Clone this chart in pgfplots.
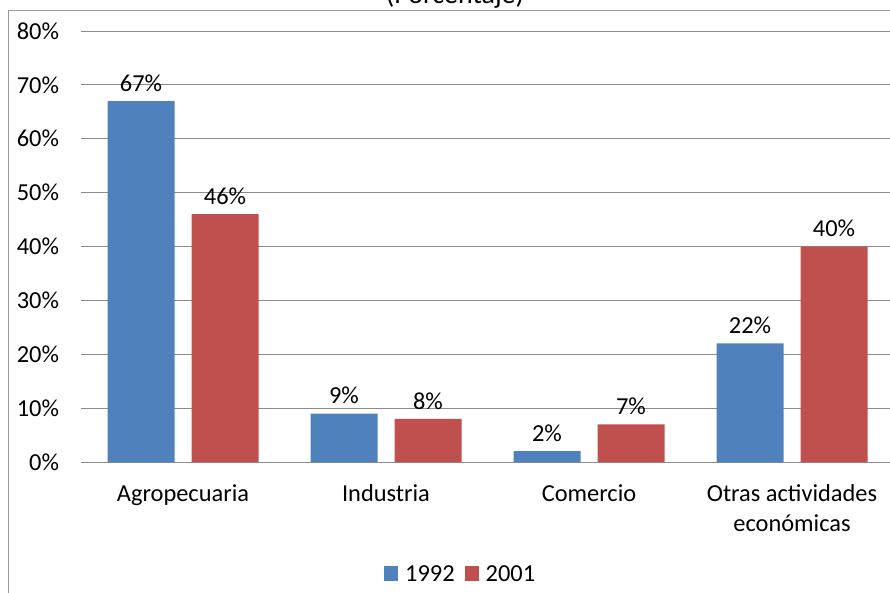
\documentclass[border=0pt]{standalone}
\usepackage{pgfplots}
\pgfplotsset{compat=1.18}
\usepackage{fontspec}
\setmainfont{Carlito}
\definecolor{cblue}{HTML}{4F81BD}
\definecolor{cred}{HTML}{C0504D}
\definecolor{gridc}{HTML}{8C8C8C}
\definecolor{framec}{HTML}{9A9A9A}
\begin{document}
\begin{tikzpicture}
\useasboundingbox (0pt,0pt) rectangle (890pt,592pt);
\clip (0pt,0pt) rectangle (890pt,592pt);
\draw[framec, line width=1pt] (8pt,-10pt) rectangle (900pt,581pt);
\node[anchor=base, font=\fontsize{28}{34}\selectfont, inner sep=0pt] at (455pt,588pt) {(Porcentaje)};
\begin{axis}[
  at={(183pt,130pt)}, anchor=origin,
  scale only axis, width=812pt, height=431pt,
  ymin=0, ymax=80, xmin=-0.5, xmax=3.5,
  ytick={0,10,...,80},
  yticklabel={\pgfmathprintnumber{\tick}\%},
  xtick=data,
  xticklabels={Agropecuaria, Industria, Comercio, {Otras actividades\\económicas}},
  xticklabel style={align=center, font=\fontsize{24.4}{30}\selectfont, yshift=-19pt},
  yticklabel style={font=\fontsize{24.4}{30}\selectfont, xshift=-19pt},
  /pgf/number format/assume math mode=true,
  major tick length=0pt,
  axis line style={draw=none},
  ymajorgrids, grid style={gridc, line width=1pt},
  ybar=17pt, bar width=67pt,
  nodes near coords={\pgfmathprintnumber{\pgfplotspointmeta}\%},
  nodes near coords style={font=\fontsize{24.4}{30}\selectfont, yshift=6pt},
  point meta=y,
  legend columns=2,
  legend style={at={(0.467,-0.26)}, anchor=center, draw=none, fill=none,
    font=\fontsize{24.4}{30}\selectfont,
    /tikz/every even column/.append style={column sep=8pt}},
  legend image code/.code={\fill[#1] (0pt,-7pt) rectangle (14pt,8pt); \path (19pt,0pt);},
]
\addplot[fill=cblue, draw=none] coordinates {(0,67) (1,9) (2,2) (3,22)};
\addplot[fill=cred, draw=none] coordinates {(0,46) (1,8) (2,7) (3,40)};
\legend{1992,2001}
\end{axis}
\end{tikzpicture}
\end{document}
